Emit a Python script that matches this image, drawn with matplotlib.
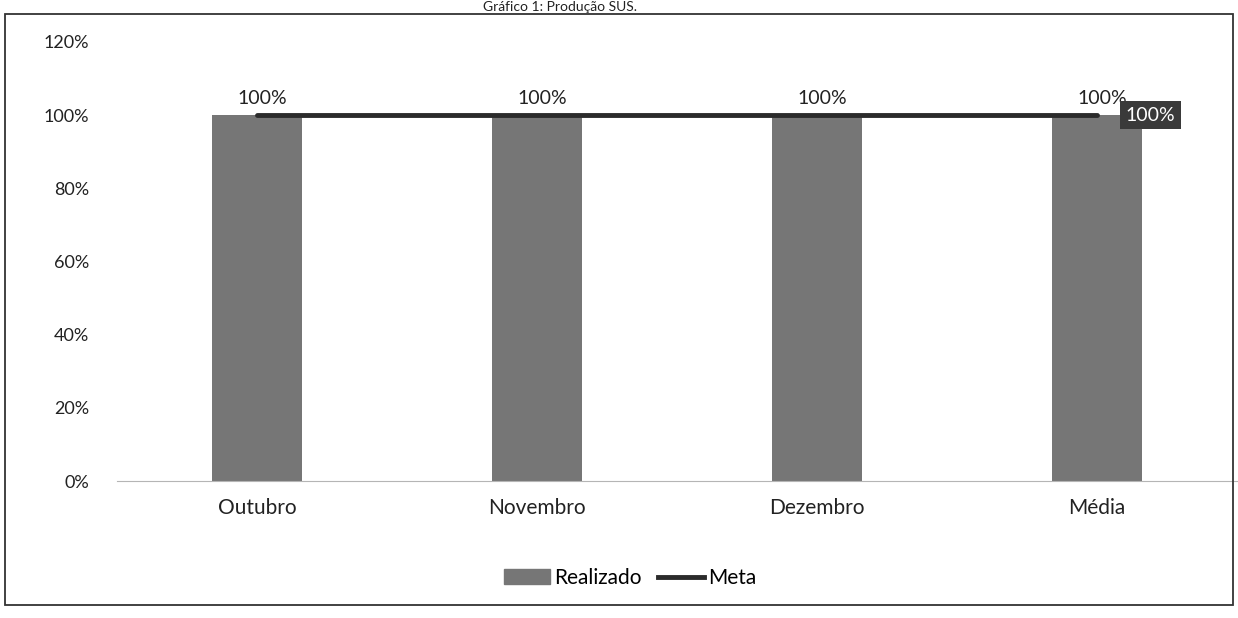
import matplotlib.pyplot as plt
from matplotlib.patches import Rectangle
from matplotlib.lines import Line2D
import numpy as np

plt.rcParams['font.family'] = ['Lato', 'DejaVu Sans']

categories = ['Outubro', 'Novembro', 'Dezembro', 'Média']
realizado = [1.0, 1.0, 1.0, 1.0]
meta = [1.0, 1.0, 1.0, 1.0]
y_ticks = [0, 0.2, 0.4, 0.6, 0.8, 1.0, 1.2]

BAR_COLOR = '#767676'
LINE_COLOR = '#2b2b2b'

fig = plt.figure(figsize=(12.38, 6.18), dpi=100)
W, H = 1238, 618

# outer frame of the chart (scanned page)
fig.add_artist(Rectangle((5 / W, 1 - 605 / H), 1228 / W, 591 / H,
                         transform=fig.transFigure, fill=False,
                         edgecolor='#333333', linewidth=1.3))

# title, cut by the top of the scan in the original
fig.text(560 / W, 1 - 7 / H, 'Gráfico 1: Produção SUS.', ha='center', va='center',
         fontsize=10, color='#222222')

ax = fig.add_axes([117 / W, 1 - 481 / H, 1120 / W, 439 / H])
x = np.arange(len(categories))

ax.bar(x, realizado, width=0.32, color=BAR_COLOR, label='Realizado', zorder=2)
ax.plot(x, meta, color=LINE_COLOR, linewidth=3.5, label='Meta', zorder=3,
        solid_capstyle='round')

for i, v in enumerate(realizado):
    ax.text(x[i] + 0.02, v + 0.045, f'{v:.0%}', ha='center', va='center',
            fontsize=14, color='#222222')

ax.text(x[-1] + 0.19, meta[-1], f'{meta[-1]:.0%}', ha='center', va='center',
        fontsize=14, color='white',
        bbox=dict(boxstyle='square,pad=0.3', facecolor='#3a3a3a', edgecolor='none'))

ax.set_xlim(-0.5, 3.5)
ax.set_ylim(0, 1.2)
ax.set_xticks(x)
ax.set_xticklabels(categories, fontsize=15, color='#222222')
ax.set_yticks(y_ticks)
ax.set_yticklabels([f'{t:.0%}' for t in y_ticks], fontsize=13, color='#222222')
ax.tick_params(length=0, pad=20, axis='y')
ax.tick_params(length=0, pad=12, axis='x')
for s in ['top', 'right', 'left']:
    ax.spines[s].set_visible(False)
ax.spines['bottom'].set_color('#b5b5b5')
ax.set_facecolor('none')

handles = [Rectangle((0, 0), 1, 1, color=BAR_COLOR),
           Line2D([0], [0], color=LINE_COLOR, linewidth=3.5)]
fig.legend(handles, ['Realizado', 'Meta'], loc='center', ncol=2,
           bbox_to_anchor=(630 / W, 1 - 578 / H), frameon=False,
           fontsize=15, handlelength=2.2, handletextpad=0.2, columnspacing=0.8)

fig.savefig('out.png', dpi=100)
